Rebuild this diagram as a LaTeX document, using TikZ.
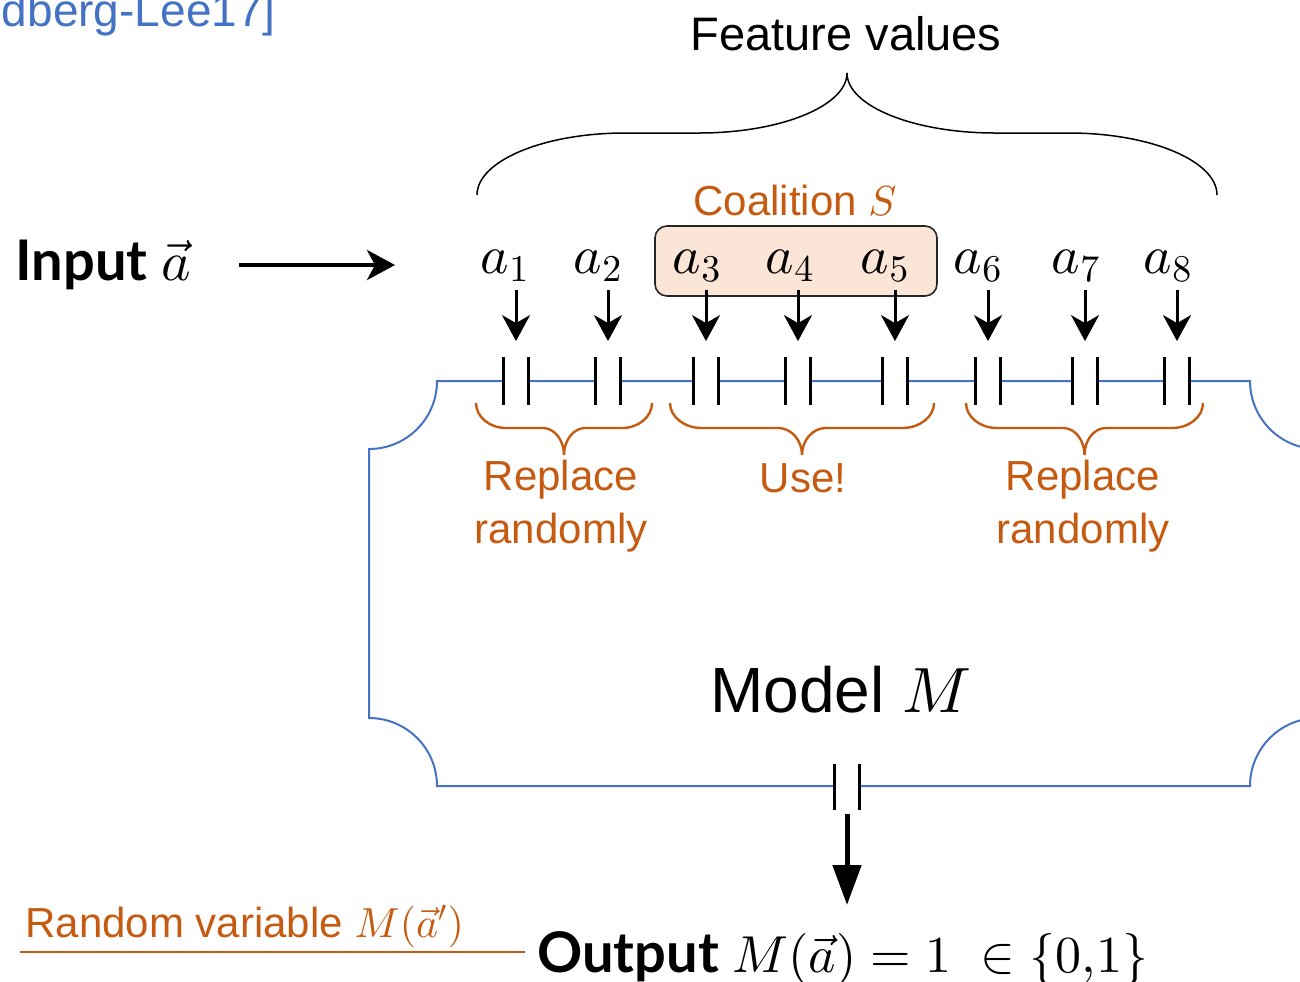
\documentclass[tikz,border=0pt]{standalone}
\usepackage[no-math]{fontspec}
\setmainfont{Liberation Sans}
\newfontfamily\headfont{Lato}
\usetikzlibrary{arrows.meta}
% scalable math fonts
\DeclareFontFamily{OML}{cmm}{\skewchar\font'177}
\DeclareFontShape{OML}{cmm}{m}{it}{<-> cmmi10}{}
\DeclareFontFamily{OT1}{cmr}{\hyphenchar\font45}
\DeclareFontShape{OT1}{cmr}{m}{n}{<-> cmr10}{}
\DeclareFontFamily{OMS}{cmsy}{\skewchar\font'60}
\DeclareFontShape{OMS}{cmsy}{m}{n}{<-> cmsy10}{}

\definecolor{shapblue}{HTML}{4472C4}
\definecolor{shaporange}{HTML}{C55A11}
\definecolor{coalfill}{HTML}{FBE5D6}

% curly brace: style, left x, right x, end y, flat y, tip y, end part, tip part
\newcommand{\curlybrace}[8]{%
  \pgfmathsetmacro{\bl}{#2}\pgfmathsetmacro{\br}{#3}
  \pgfmathsetmacro{\bm}{(#2+#3)/2}
  \pgfmathsetmacro{\ra}{#7*(#3-#2)}
  \pgfmathsetmacro{\rb}{#8*(#3-#2)}
  \pgfmathsetmacro{\ya}{#4+0.55*(#5-#4)}
  \pgfmathsetmacro{\yb}{#5+0.45*(#6-#5)}
  \draw[#1] (\bl,#4) .. controls (\bl,\ya) and ({\bl+0.45*\ra},#5) .. ({\bl+\ra},#5)
    -- ({\bm-\rb},#5) .. controls ({\bm-0.45*\rb},#5) and (\bm,\yb) .. (\bm,#6)
    .. controls (\bm,\yb) and ({\bm+0.45*\rb},#5) .. ({\bm+\rb},#5)
    -- ({\br-\ra},#5) .. controls ({\br-0.45*\ra},#5) and (\br,\ya) .. (\br,#4);
}

\begin{document}
\begin{tikzpicture}[x=0.5pt,y=-0.5pt,
  lbl/.style={font=\fontsize{21}{26.5}\selectfont, text=shaporange},
  feat/.style={anchor=base, inner sep=1pt, font=\fontsize{27}{30}\selectfont},
  port/.style={fill=white, inner sep=0pt, minimum width=12pt, minimum height=23.5pt},
  portbar/.style={line width=1.5pt},
  feedarrow/.style={line width=1.5pt, -{Stealth[length=13pt,width=14pt,inset=4pt]}},
  bigarrow/.style={line width=2pt, -{Stealth[length=14pt,width=15pt,inset=4pt]}},
  outarrow/.style={line width=2.5pt, -{Triangle[length=20pt,width=14pt]}},
  modelline/.style={draw=shapblue, line width=1pt},
  bold/.style={font=\headfont\bfseries\fontsize{28}{32}\selectfont}
]
\useasboundingbox (0,0) rectangle (1300,981);
\clip (0,0) rectangle (1300,981);

% citation, cut at the left edge
\node[anchor=base east, inner sep=0pt, text=shapblue, font=\fontsize{23}{28}\selectfont] (cite) at (276,26) {[Lundberg-Lee17]};

\node[anchor=base, font=\fontsize{23.5}{28}\selectfont] (featlbl) at (846,50) {Feature values};
\curlybrace{line width=0.75pt}{477}{1217}{195}{133}{73}{0.2}{0.2}

% model box with cut corners
\draw[modelline] (437,381) -- (1250,381) arc[start angle=180, end angle=90, radius=68]
  -- (1318,718) arc[start angle=270, end angle=180, radius=68]
  -- (437,786) arc[start angle=0, end angle=-90, radius=68]
  -- (369,449) arc[start angle=90, end angle=0, radius=68] -- cycle;

% coalition
\node[draw=black!85, line width=0.8pt, fill=coalfill, rounded corners=6pt, minimum width=141pt, minimum height=35pt] (coal) at (796,261) {};
\node[lbl, anchor=base] (coallbl) at (795,215) {Coalition $S$};

% input
\node[bold, anchor=base west, inner sep=0pt] (input) at (15,280) {Input $\vec{a}$};
\coordinate (inend) at (395,265);
\draw[bigarrow] ([xshift=24pt]input.east |- inend) -- (inend);

% features and ports
\foreach \i/\ax/\px in {1/505/516, 2/598/608, 3/697/706, 4/790/798, 5/885/895, 6/978/988, 7/1076/1085, 8/1168/1177} {
  \node[feat] (a\i) at (\ax,273) {$a_{\i}$};
  \node[port] (p\i) at (\px,381) {};
  \draw[portbar] (p\i.north west) -- (p\i.south west) (p\i.north east) -- (p\i.south east);
  \draw[feedarrow] ([yshift=-3pt]a\i.south -| p\i) -- ([yshift=8pt]p\i.north);
}

% groups
\curlybrace{shaporange, line width=1.2pt}{476}{652}{403}{428}{455}{0.17}{0.12}
\curlybrace{shaporange, line width=1.2pt}{670}{934}{403}{428}{455}{0.12}{0.09}
\curlybrace{shaporange, line width=1.2pt}{966}{1203}{403}{428}{455}{0.13}{0.09}
\node[lbl, align=center] (repl1) at (561,506) {Replace\\randomly};
\node[lbl, anchor=base] (use) at (803,492) {Use!};
\node[lbl, align=center] (repl2) at (1083,506) {Replace\\randomly};

\node[anchor=base, font=\fontsize{32}{38}\selectfont] (model) at (841,712) {Model $M$};

% output
\node[port, minimum height=23pt] (pm) at (847,787) {};
\draw[portbar] (pm.north west) -- (pm.south west) (pm.north east) -- (pm.south east);
\coordinate (outtip) at (847,905);
\draw[outarrow] ([yshift=-2pt]pm.south) -- (outtip);

\node[bold, anchor=base west, inner xsep=6pt, inner ysep=0pt] (out) at (525,972) {Output {\fontsize{26}{30}\selectfont$M(\vec{a}) = 1\; \in \{0{,}1\}$}};
\node[lbl, anchor=base west, inner sep=0pt] (rv) at (25,937) {Random variable $M(\vec{a}')$};
\coordinate (rvstart) at (20,952);
\draw[shaporange, line width=0.75pt] (rvstart) -- (rvstart -| out.west);
\end{tikzpicture}
\end{document}
